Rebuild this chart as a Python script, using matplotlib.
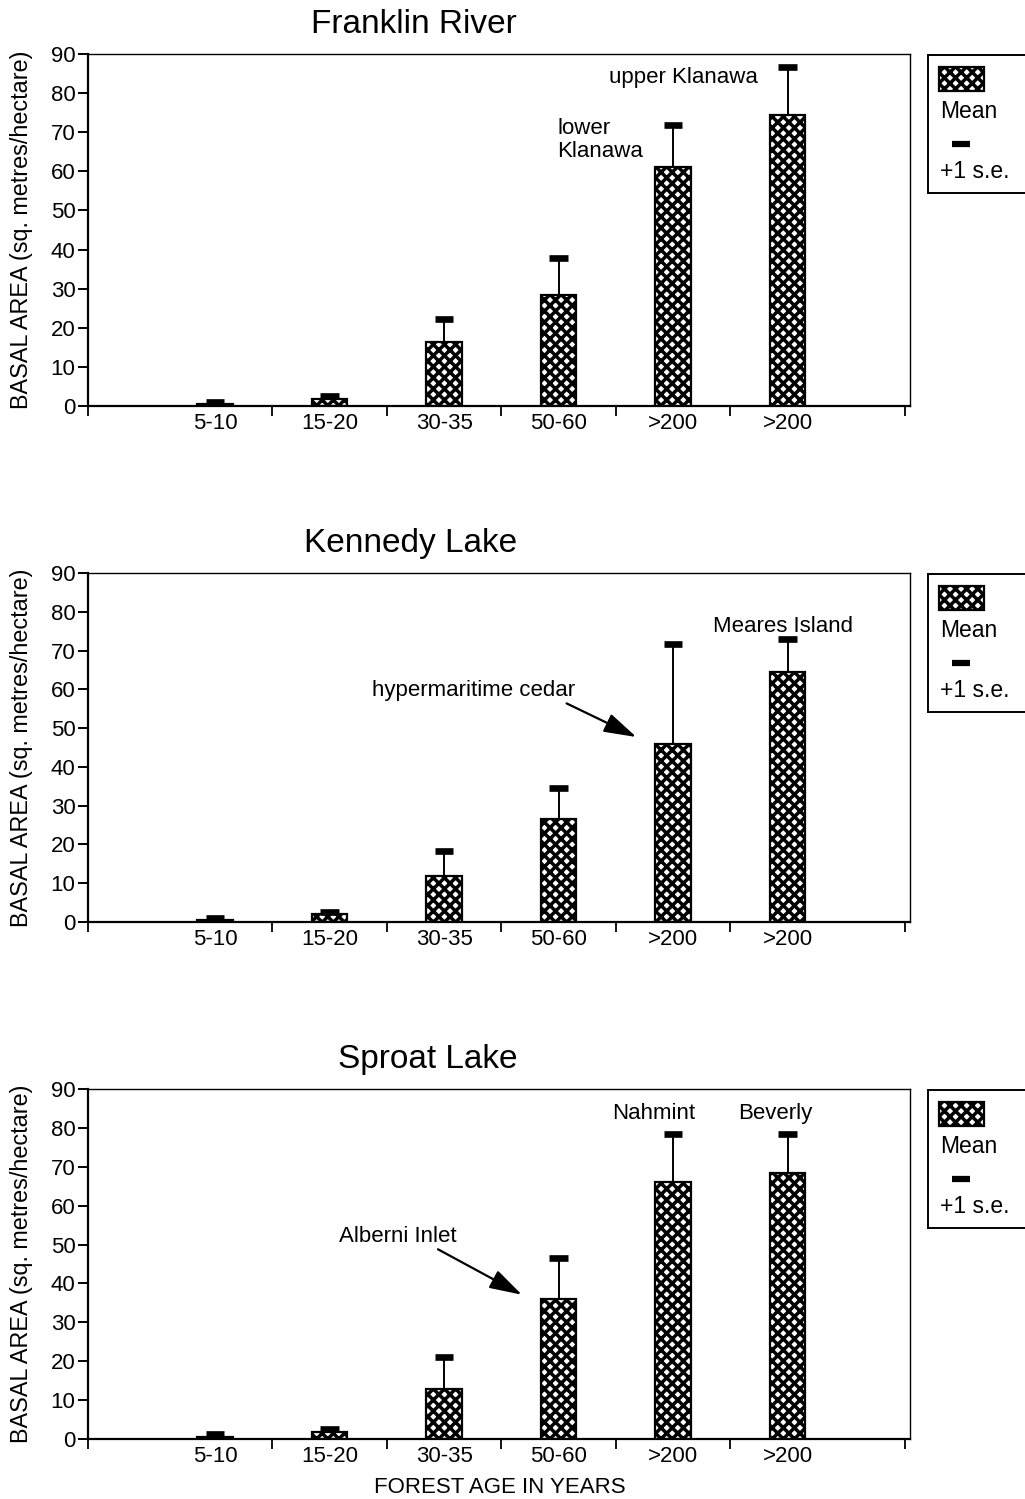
import matplotlib
matplotlib.use("Agg")
import matplotlib.pyplot as plt
from matplotlib.patches import Rectangle
from matplotlib.lines import Line2D
import numpy as np

plt.rcParams["font.family"] = ["Liberation Sans", "DejaVu Sans"]
plt.rcParams["hatch.linewidth"] = 2.5

# ---- data -------------------------------------------------------------
age_classes = ["5-10", "15-20", "30-35", "50-60", ">200", ">200"]

site_titles = ["Franklin River", "Kennedy Lake", "Sproat Lake"]

franklin_mean = [0.4, 1.9, 16.3, 28.4, 61.1, 74.4]
franklin_se = [0.6, 0.7, 5.9, 9.5, 10.8, 12.3]

kennedy_mean = [0.5, 2.0, 11.9, 26.6, 45.8, 64.5]
kennedy_se = [0.6, 0.7, 6.5, 8.0, 26.0, 8.5]

sproat_mean = [0.6, 1.8, 12.9, 36.0, 66.2, 68.5]
sproat_se = [0.6, 0.8, 8.2, 10.6, 12.3, 9.9]

means = [franklin_mean, kennedy_mean, sproat_mean]
ses = [franklin_se, kennedy_se, sproat_se]

y_ticks = list(range(0, 100, 10))

# ---- figure layout (pixel based) --------------------------------------
W, H = 1025, 1499
fig = plt.figure(figsize=(W / 100, H / 100), dpi=100)


def fx(x):
    return x / W


def fy(y):
    return 1 - y / H


ax_left, ax_right = 88, 910
panel_tops = [54, 573, 1089]
panel_bottoms = [406, 922, 1439]

xpos = np.arange(1, len(age_classes) + 1)
xmin, xmax = -0.11, 7.07
bar_w = 0.31
cap_w = 0.16
PATTERN = "xxx"

for i in range(3):
    top, bot = panel_tops[i], panel_bottoms[i]
    ax = fig.add_axes([fx(ax_left), fy(bot), (ax_right - ax_left) / W, (bot - top) / H])

    m = np.array(means[i])
    upper = m + np.array(ses[i])
    ax.bar(xpos, m, width=bar_w, color="white", edgecolor="black",
           hatch=PATTERN, linewidth=1.6, zorder=2)
    # +1 s.e. whisker: stem from the bar top and a thick cap
    ax.vlines(xpos, m, upper, color="black", linewidth=1.4, zorder=3)
    ax.hlines(upper, xpos - cap_w / 2, xpos + cap_w / 2, color="black",
              linewidth=4.8, zorder=3)

    ax.set_xlim(xmin, xmax)
    ax.set_ylim(0, 90)
    ax.set_yticks(y_ticks)
    ax.set_xticks(xpos)
    ax.set_xticklabels(age_classes, fontsize=16)
    ax.set_xticks([xmin, 1.5, 2.5, 3.5, 4.5, 5.5, 7.03], minor=True)
    ax.tick_params(axis="x", which="major", length=0, pad=5)
    ax.tick_params(axis="x", which="minor", length=7, width=1.3, direction="out")
    ax.tick_params(axis="y", which="major", length=7, width=1.4, direction="out",
                   labelsize=16, pad=2)
    for side in ("left", "bottom"):
        ax.spines[side].set_linewidth(1.6)
    for side in ("top", "right"):
        ax.spines[side].set_linewidth(1.0)

    # panel title and y label
    fig.text(fx(517), fy(top - 21), site_titles[i], ha="right", va="baseline",
             fontsize=24)
    fig.text(fx(22), fy((top + bot) / 2), "BASAL AREA (sq. metres/hectare)",
             rotation=90, ha="center", va="center", fontsize=16.8)

    # key box at right
    y0 = top + 1
    fig.patches.append(Rectangle((fx(928), fy(y0 + 138)), 0.2, 138 / H,
                                 transform=fig.transFigure, facecolor="white",
                                 edgecolor="black", linewidth=1.4))
    fig.patches.append(Rectangle((fx(939), fy(y0 + 36)), 45 / W, 24 / H,
                                 transform=fig.transFigure, facecolor="white",
                                 edgecolor="black", hatch=PATTERN, linewidth=1.6))
    fig.text(fx(940), fy(y0 + 63), "Mean", ha="left", va="baseline", fontsize=16.5)
    fig.lines.append(Line2D([fx(952), fx(970)], [fy(y0 + 89), fy(y0 + 89)],
                            transform=fig.transFigure, color="black",
                            linewidth=4.5, solid_capstyle="butt"))
    fig.text(fx(940), fy(y0 + 123), "+1 s.e.", ha="left", va="baseline",
             fontsize=16.5)

    if i == 0:
        ax.text(4.44, 83.9, "upper Klanawa", ha="left", va="center", fontsize=16)
        ax.text(3.99, 68.0, "lower\nKlanawa", ha="left", va="center",
                fontsize=16, linespacing=1.15)
    elif i == 1:
        ax.text(5.35, 76.1, "Meares Island", ha="left", va="center", fontsize=16)
        ax.annotate("hypermaritime cedar", xy=(4.68, 47.7), xytext=(2.37, 59.8),
                    ha="left", va="center", fontsize=16,
                    arrowprops=dict(arrowstyle="-|>,head_length=1.0,head_width=0.3",
                                    mutation_scale=20, color="black", lw=1.6,
                                    shrinkA=0, shrinkB=0, relpos=(0.93, 0.0)))
    else:
        ax.text(4.83, 83.6, "Nahmint", ha="center", va="center", fontsize=16)
        ax.text(5.89, 83.6, "Beverly", ha="center", va="center", fontsize=16)
        ax.annotate("Alberni Inlet", xy=(3.68, 37.1), xytext=(2.08, 52.2),
                    ha="left", va="center", fontsize=16,
                    arrowprops=dict(arrowstyle="-|>,head_length=1.0,head_width=0.3",
                                    mutation_scale=20, color="black", lw=1.6,
                                    shrinkA=0, shrinkB=0, relpos=(0.8, 0.0)))

fig.text(fx(500), fy(1493), "FOREST AGE IN YEARS", ha="center", va="baseline",
         fontsize=16)

fig.savefig("out.png", dpi=100, facecolor="white")
